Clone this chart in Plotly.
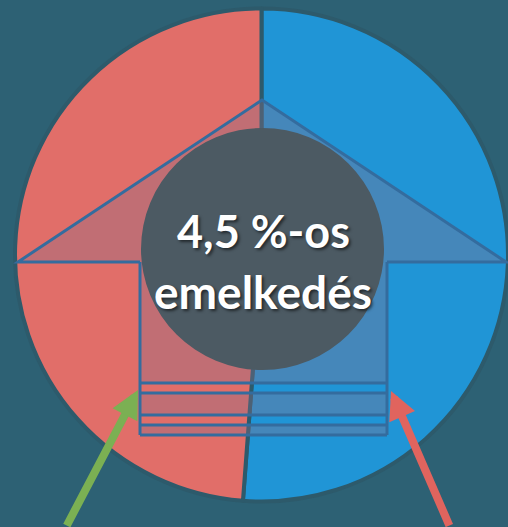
import plotly.graph_objects as go

# ---- data ----
segment_labels = ["kék", "piros"]
segment_values = [51.2, 48.8]          # blue half is slightly larger than red half
segment_colors = ["#2095d6", "#e16e69"]
headline_lines = ["4,5 %-os", "emelkedés"]

# ---- layout constants ----
W, H = 508, 527
BG = "#2d6174"
cx, cy, R = 262, 255, 247
HOLE = 0.45
OUTLINE = "rgb(52,108,158)"
OVERLAY = "rgba(135,112,135,0.36)"

fig = go.Figure()

# invisible trace to establish pixel-like axes for decorative shapes
fig.add_trace(go.Scatter(x=[0, W], y=[0, H], mode="markers",
                         marker=dict(opacity=0), hoverinfo="skip", showlegend=False))

fig.add_trace(go.Pie(
    values=segment_values, labels=segment_labels, sort=False,
    direction="clockwise", rotation=0, hole=HOLE,
    marker=dict(colors=segment_colors, line=dict(color="#2d5a6b", width=4)),
    textinfo="none", hoverinfo="label+percent", showlegend=False,
    domain=dict(x=[max(0, (cx - R) / W), min(1, (cx + R) / W)],
                y=[1 - (cy + R) / H, 1 - (cy - R) / H]),
))

shapes = []
# arrow (up) overlay: head + shaft
apex = (262, 100)
base_y = 262
left_x, right_x = 18, 506
shaft_l, shaft_r = 140, 387
shaft_top_band = 383
path = (f"M {left_x},{base_y} L {apex[0]},{apex[1]} L {right_x},{base_y} "
        f"L {shaft_r},{base_y} L {shaft_r},{shaft_top_band} L {shaft_l},{shaft_top_band} "
        f"L {shaft_l},{base_y} Z")
shapes.append(dict(type="path", path=path, xref="x", yref="y", layer="above",
                   fillcolor=OVERLAY, line=dict(width=0)))
# darker bands at the shaft bottom
for y0, y1 in [(393, 415), (425, 435)]:
    shapes.append(dict(type="rect", x0=shaft_l, x1=shaft_r, y0=y0, y1=y1, xref="x", yref="y",
                       layer="above", fillcolor=OVERLAY, line=dict(width=0)))
# outline of arrow head
outline = (f"M {shaft_l},{base_y} L {left_x},{base_y} L {apex[0]},{apex[1]} "
           f"L {right_x},{base_y} L {shaft_r},{base_y}")
shapes.append(dict(type="path", path=outline, xref="x", yref="y", layer="above",
                   line=dict(color=OUTLINE, width=3)))
# shaft sides
for sx in (shaft_l, shaft_r):
    shapes.append(dict(type="line", x0=sx, x1=sx, y0=base_y, y1=435, xref="x", yref="y",
                       layer="above", line=dict(color=OUTLINE, width=3)))
# horizontal stripes
for yy in (383, 393, 415, 425, 435):
    shapes.append(dict(type="line", x0=shaft_l, x1=shaft_r, y0=yy, y1=yy, xref="x", yref="y",
                       layer="above", line=dict(color=OUTLINE, width=3)))
# central grey disc
shapes.append(dict(type="circle", x0=141, x1=384, y0=128, y1=370, xref="x", yref="y",
                   layer="above", fillcolor="#4c5a63", line=dict(width=0)))

annotations = []
for txt, ty, fs in zip(headline_lines, (231, 291), (45, 46)):
    annotations.append(dict(x=263, y=ty, xref="x", yref="y", text=f"<b>{txt}</b>",
                            showarrow=False, xanchor="center", yanchor="middle",
                            font=dict(family="Lato", size=fs, color="white",
                                      shadow="2px 2px 3px rgba(0,0,0,0.55)")))
# pointer arrows
annotations.append(dict(x=138, y=390, ax=66, ay=527, xref="x", yref="y", axref="x", ayref="y",
                        text="", showarrow=True, arrowhead=2, arrowsize=0.7, arrowwidth=8,
                        arrowcolor="#7bb053", standoff=0))
annotations.append(dict(x=391, y=391, ax=450, ay=527, xref="x", yref="y", axref="x", ayref="y",
                        text="", showarrow=True, arrowhead=2, arrowsize=0.7, arrowwidth=8,
                        arrowcolor="#e0645e", standoff=0))

fig.update_layout(
    width=W, height=H, autosize=False,
    margin=dict(l=0, r=0, t=0, b=0),
    paper_bgcolor=BG, plot_bgcolor=BG,
    xaxis=dict(range=[0, W], visible=False, fixedrange=True, domain=[0, 1]),
    yaxis=dict(range=[H, 0], visible=False, fixedrange=True, domain=[0, 1]),
    shapes=shapes, annotations=annotations, showlegend=False,
)

fig.write_html("out.html", config=dict(displayModeBar=False),
               post_script="document.body.style.margin='0';document.body.style.background='%s';" % BG)
